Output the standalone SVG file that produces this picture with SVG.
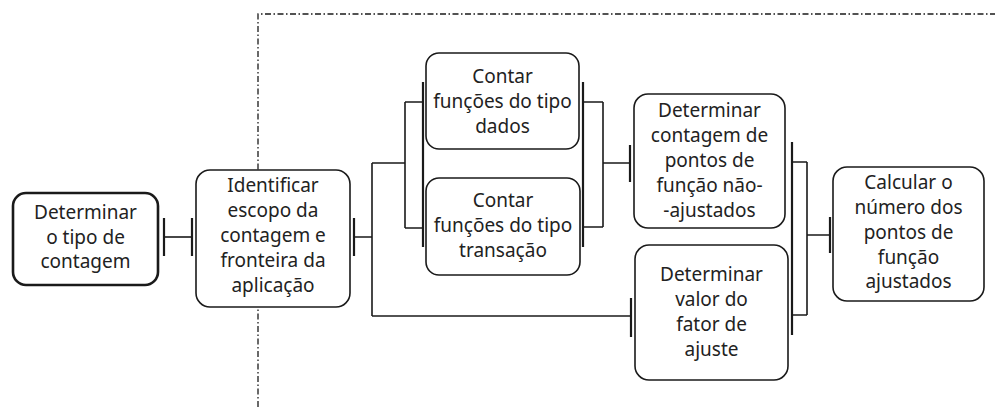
<svg xmlns="http://www.w3.org/2000/svg" width="995" height="407" viewBox="0 0 995 407">
<style>
.bg{fill:#fff}
.box{fill:#fff;stroke:#1a1a1a;stroke-width:1.6}
.box1{fill:#fff;stroke:#1a1a1a;stroke-width:2.6}
.t{font-family:"Noto Sans","Open Sans",sans-serif;font-size:19px;fill:#222;text-anchor:middle}
.c{fill:none;stroke:#1a1a1a;stroke-width:1.6}
.bar{fill:none;stroke:#1a1a1a;stroke-width:2.2}
.bd{fill:none;stroke:#1a1a1a;stroke-width:1.3;stroke-dasharray:6 2.5 1.5 2.5}
</style>
<rect class="bg" x="0" y="0" width="995" height="407"/>
<g id="boundary">
<path class="bd" d="M258,407 V14 H995"/>
</g>
<g id="connectors">
<path class="c" d="M164,237 H192"/>
<path class="bar" d="M164,218 V256 M192,218 V256"/>
<path class="bar" d="M354,218 V256"/>
<path class="c" d="M354,237 H372 M372,163 V316 M372,163 H405 M405,102 V228 M405,102 H423 M405,228 H423"/>
<path class="bar" d="M423,82 V247 M583,82 V247"/>
<path class="c" d="M583,102 H603 M583,227 H603 M603,102 V227 M603,163 H630"/>
<path class="bar" d="M630,145 V182"/>
<path class="c" d="M372,316 H631"/>
<path class="bar" d="M631,298 V337"/>
<path class="bar" d="M792,142 V335"/>
<path class="c" d="M792,162 H807 M792,315 H807 M807,162 V315 M807,235 H830"/>
<path class="bar" d="M830,217 V253"/>
</g>
<g id="n1">
<rect class="box1" x="13" y="193" width="145" height="92" rx="13"/>
<text class="t"><tspan x="85.5" y="219">Determinar</tspan><tspan x="85.5" y="244">o tipo de</tspan><tspan x="85.5" y="268">contagem</tspan></text>
</g>
<g id="n2">
<rect class="box" x="196" y="170" width="154" height="137" rx="14"/>
<text class="t"><tspan x="273" y="192">Identificar</tspan><tspan x="273" y="217">escopo da</tspan><tspan x="273" y="242">contagem e</tspan><tspan x="273" y="267">fronteira da</tspan><tspan x="273" y="292">aplicação</tspan></text>
</g>
<g id="n3">
<rect class="box" x="426" y="53" width="153" height="96" rx="13"/>
<text class="t"><tspan x="502.5" y="83">Contar</tspan><tspan x="502.5" y="108">funções do tipo</tspan><tspan x="502.5" y="133">dados</tspan></text>
</g>
<g id="n4">
<rect class="box" x="426" y="178" width="154" height="97" rx="13"/>
<text class="t"><tspan x="503" y="207">Contar</tspan><tspan x="503" y="232">funções do tipo</tspan><tspan x="503" y="257">transação</tspan></text>
</g>
<g id="n5">
<rect class="box" x="634" y="94" width="151" height="134" rx="14"/>
<text class="t"><tspan x="709.5" y="117">Determinar</tspan><tspan x="709.5" y="142">contagem de</tspan><tspan x="709.5" y="167">pontos de</tspan><tspan x="709.5" y="192">função não-</tspan><tspan x="709.5" y="217">-ajustados</tspan></text>
</g>
<g id="n6">
<rect class="box" x="635" y="245" width="153" height="135" rx="14"/>
<text class="t"><tspan x="711.5" y="281">Determinar</tspan><tspan x="711.5" y="306">valor do</tspan><tspan x="711.5" y="331">fator de</tspan><tspan x="711.5" y="356">ajuste</tspan></text>
</g>
<g id="n7">
<rect class="box" x="833" y="167" width="151" height="134" rx="14"/>
<text class="t"><tspan x="908.5" y="189">Calcular o</tspan><tspan x="908.5" y="214">número dos</tspan><tspan x="908.5" y="239">pontos de</tspan><tspan x="908.5" y="264">função</tspan><tspan x="908.5" y="288">ajustados</tspan></text>
</g>
</svg>
